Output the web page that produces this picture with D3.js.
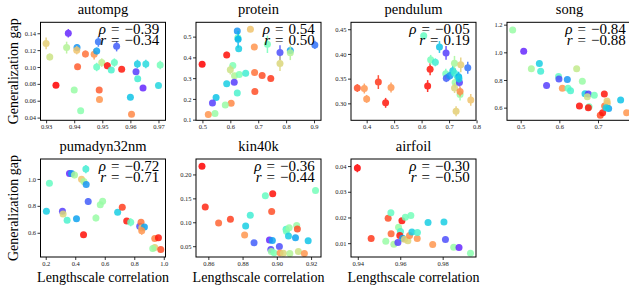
<!DOCTYPE html>
<html>
<head>
<meta charset="utf-8">
<script src="https://cdn.jsdelivr.net/npm/d3@7"></script>
<style>
  body { margin: 0; background: #fff; }
  svg text { font-family: "Liberation Serif", "Times New Roman", Times, serif; }
  .tick-label { font-size: 6.5px; fill: #222; }
  .title { font-size: 14.5px; text-anchor: middle; }
  .axis-label { font-size: 14px; text-anchor: middle; }
  .stat { font-size: 15px; text-anchor: end; }
</style>
</head>
<body>
<div id="chart"></div>
<script>
// Each point: [lengthscale correlation, generalization gap, error, colour index 0..1 (rainbow)]
const autompg = [
  [0.9300, 0.128, 0.007, 0.70], [0.9313, 0.112, 0.004, 0.65], [0.9335, 0.0785, 0.002, 1.00],
  [0.9379, 0.140, 0.005, 0.05], [0.9373, 0.123, 0.007, 0.60], [0.9410, 0.123, 0.004, 0.20],
  [0.9409, 0.120, 0.005, 0.72], [0.9412, 0.1004, 0.002, 0.88], [0.9400, 0.0726, 0.002, 0.55],
  [0.9423, 0.048, 0.002, 0.52], [0.9440, 0.1155, 0.004, 0.85], [0.9471, 0.115, 0.006, 0.80],
  [0.9480, 0.119, 0.004, 0.22], [0.9486, 0.130, 0.006, 0.15], [0.9480, 0.100, 0.005, 0.45],
  [0.9498, 0.1052, 0.005, 0.62], [0.9489, 0.0726, 0.002, 0.88], [0.9490, 0.0615, 0.002, 0.80],
  [0.9518, 0.1015, 0.004, 0.98], [0.9532, 0.0964, 0.002, 0.40], [0.9543, 0.1052, 0.005, 0.45],
  [0.9551, 0.1245, 0.006, 0.12], [0.9569, 0.0972, 0.002, 0.97], [0.9600, 0.064, 0.002, 0.28],
  [0.9604, 0.044, 0.002, 0.82], [0.9620, 0.0944, 0.003, 0.08], [0.9625, 0.1036, 0.005, 0.30],
  [0.9626, 0.0861, 0.002, 0.38], [0.9645, 0.0750, 0.002, 0.05], [0.9655, 0.1036, 0.005, 0.33],
  [0.9700, 0.0782, 0.002, 0.32], [0.9706, 0.1024, 0.005, 0.48]
];
const protein = [
  [0.499, 0.367, 0.01, 1.00], [0.587, 0.412, 0.015, 0.98], [0.625, 0.527, 0.01, 0.20],
  [0.672, 0.536, 0.005, 0.72], [0.627, 0.495, 0.01, 0.45], [0.628, 0.487, 0.04, 0.25],
  [0.630, 0.442, 0.01, 0.30], [0.686, 0.450, 0.01, 0.80], [0.733, 0.463, 0.042, 0.48],
  [0.778, 0.423, 0.035, 0.10], [0.815, 0.433, 0.01, 0.22], [0.903, 0.460, 0.02, 0.15],
  [0.815, 0.422, 0.035, 0.60], [0.778, 0.370, 0.035, 0.68], [0.609, 0.361, 0.01, 0.50],
  [0.600, 0.340, 0.022, 0.65], [0.615, 0.311, 0.01, 0.60], [0.632, 0.318, 0.01, 0.50],
  [0.655, 0.324, 0.015, 0.38], [0.614, 0.280, 0.01, 0.08], [0.587, 0.273, 0.005, 0.30],
  [0.687, 0.327, 0.005, 0.85], [0.714, 0.313, 0.005, 0.90], [0.745, 0.298, 0.005, 0.93],
  [0.688, 0.236, 0.005, 0.90], [0.625, 0.228, 0.005, 0.40], [0.549, 0.207, 0.005, 0.28],
  [0.536, 0.180, 0.005, 0.08], [0.603, 0.179, 0.005, 0.82], [0.582, 0.171, 0.005, 0.55],
  [0.545, 0.130, 0.005, 0.55], [0.521, 0.125, 0.005, 0.80]
];
const pendulum = [
  [0.366, 0.331, 0.008, 0.90], [0.3915, 0.330, 0.010, 0.80], [0.400, 0.309, 0.008, 0.80],
  [0.4425, 0.343, 0.014, 0.93], [0.4887, 0.332, 0.010, 0.80], [0.469, 0.301, 0.010, 0.97],
  [0.6077, 0.437, 0.006, 0.45], [0.622, 0.335, 0.012, 0.98], [0.631, 0.369, 0.012, 0.97],
  [0.633, 0.388, 0.010, 0.48], [0.650, 0.383, 0.008, 0.38], [0.665, 0.414, 0.012, 0.28],
  [0.689, 0.402, 0.014, 0.08], [0.688, 0.360, 0.010, 0.48], [0.690, 0.351, 0.008, 0.12],
  [0.7026, 0.356, 0.008, 0.20], [0.7136, 0.366, 0.010, 0.30], [0.7197, 0.381, 0.015, 0.58],
  [0.720, 0.361, 0.010, 0.38], [0.722, 0.342, 0.010, 0.55], [0.720, 0.331, 0.010, 0.68],
  [0.7426, 0.378, 0.015, 0.70], [0.735, 0.354, 0.010, 0.25], [0.7377, 0.342, 0.008, 0.08],
  [0.740, 0.318, 0.012, 0.55], [0.740, 0.324, 0.010, 0.82], [0.7255, 0.284, 0.010, 0.70],
  [0.768, 0.372, 0.012, 0.15], [0.779, 0.307, 0.012, 0.72], [0.736, 0.350, 0.008, 0.30]
];
const song = [
  [0.4793, 1.162, 0, 0.55], [0.5078, 1.008, 0, 0.05], [0.5276, 0.882, 0, 0.58],
  [0.5483, 0.919, 0, 0.30], [0.5517, 0.864, 0, 0.38], [0.567, 0.761, 0, 0.08],
  [0.598, 0.826, 0, 0.45], [0.599, 0.807, 0, 0.10], [0.6078, 0.741, 0, 0.80],
  [0.6207, 0.803, 0, 0.20], [0.6224, 0.741, 0, 0.45], [0.629, 0.723, 0, 0.40],
  [0.6448, 0.882, 0, 0.63], [0.6595, 0.791, 0, 0.55], [0.652, 0.612, 0, 0.98],
  [0.6664, 0.700, 0, 0.30], [0.675, 0.698, 0, 0.08], [0.6724, 0.679, 0, 0.65],
  [0.677, 0.607, 0, 0.48], [0.675, 0.600, 0, 0.98], [0.6905, 0.690, 0, 0.48],
  [0.706, 0.546, 0, 0.90], [0.712, 0.563, 0, 0.97], [0.7164, 0.698, 0, 0.97],
  [0.7172, 0.612, 0, 0.85], [0.7233, 0.648, 0, 0.70], [0.724, 0.631, 0, 0.72],
  [0.7276, 0.593, 0, 0.22], [0.721, 0.600, 0, 0.30], [0.7586, 0.655, 0, 0.28],
  [0.7741, 0.564, 0, 0.80]
];
const pumadyn = [
  [0.2249, 0.968, 0.01, 0.45], [0.2045, 0.760, 0.01, 0.30], [0.3133, 0.760, 0.01, 0.08],
  [0.3178, 0.740, 0.01, 0.68], [0.345, 0.693, 0.01, 0.40], [0.4085, 0.705, 0.01, 0.22],
  [0.361, 1.040, 0.01, 0.05], [0.375, 1.040, 0.01, 0.20], [0.3949, 1.030, 0.025, 0.58],
  [0.4425, 0.998, 0.01, 0.72], [0.4584, 0.980, 0.01, 0.58], [0.472, 1.073, 0.03, 0.38],
  [0.4742, 0.958, 0.01, 0.20], [0.4878, 0.833, 0.025, 0.12], [0.4562, 0.585, 0.01, 0.98],
  [0.5402, 0.710, 0.025, 0.55], [0.5697, 0.808, 0.015, 0.55], [0.5856, 0.835, 0.02, 0.55],
  [0.6873, 0.753, 0.01, 0.30], [0.7187, 0.790, 0.01, 0.92], [0.7487, 0.688, 0.01, 0.97],
  [0.7759, 0.678, 0.03, 0.45], [0.8369, 0.648, 0.01, 0.10], [0.8459, 0.678, 0.01, 0.85],
  [0.8505, 0.635, 0.01, 0.72], [0.8686, 0.643, 0.01, 0.22], [0.8505, 0.615, 0.03, 0.80],
  [0.9388, 0.558, 0.01, 0.83], [0.9637, 0.563, 0.01, 0.97], [0.9388, 0.490, 0.01, 0.70],
  [0.9252, 0.483, 0.01, 0.55], [0.9796, 0.475, 0.01, 0.90]
];
const kin40k = [
  [0.8563, 0.2169, 0, 1.00], [0.8582, 0.1317, 0, 0.95], [0.8660, 0.0986, 0, 0.87],
  [0.8729, 0.1063, 0, 0.92], [0.8812, 0.0732, 0, 0.80], [0.8818, 0.0923, 0, 0.30],
  [0.8845, 0.1148, 0, 0.38], [0.8867, 0.0570, 0, 0.12], [0.8933, 0.1556, 0, 0.45],
  [0.8976, 0.1599, 0, 0.98], [0.8970, 0.1225, 0, 0.90], [0.8957, 0.0627, 0, 0.05],
  [0.8974, 0.0620, 0, 0.22], [0.8965, 0.0430, 0, 0.08], [0.8968, 0.0387, 0, 0.55],
  [0.8984, 0.0359, 0, 0.50], [0.9015, 0.0493, 0, 0.10], [0.9019, 0.0359, 0, 0.80],
  [0.9038, 0.0352, 0, 0.68], [0.9054, 0.0852, 0, 0.40], [0.9056, 0.0810, 0, 0.48],
  [0.9072, 0.0887, 0, 0.55], [0.9068, 0.0711, 0, 0.30], [0.9076, 0.0345, 0, 0.60],
  [0.9109, 0.0676, 0, 0.22], [0.9116, 0.0930, 0, 0.55], [0.9120, 0.0859, 0, 0.90],
  [0.9126, 0.0387, 0, 0.65], [0.9161, 0.0345, 0, 0.80], [0.9183, 0.0613, 0, 0.28],
  [0.9226, 0.1662, 0, 0.48]
];
const airfoil = [
  [0.9398, 0.0392, 0.0016, 1.00], [0.9463, 0.0118, 0, 0.93], [0.9532, 0.0107, 0, 0.55],
  [0.9543, 0.0197, 0, 0.90], [0.9556, 0.0218, 0, 0.45], [0.9557, 0.0137, 0, 0.87],
  [0.9570, 0.0096, 0, 0.58], [0.9589, 0.0103, 0, 0.08], [0.9592, 0.0162, 0, 0.55],
  [0.9601, 0.0145, 0, 0.40], [0.9598, 0.0130, 0, 0.97], [0.9608, 0.0187, 0, 0.98],
  [0.9611, 0.0119, 0, 0.22], [0.9624, 0.0201, 0, 0.48], [0.9620, 0.0115, 0, 0.70],
  [0.9636, 0.0109, 0, 0.68], [0.9644, 0.0130, 0, 0.82], [0.9650, 0.0208, 0, 0.48],
  [0.9655, 0.0143, 0, 0.30], [0.9680, 0.0118, 0, 0.80], [0.9681, 0.0142, 0, 0.40],
  [0.9731, 0.0180, 0, 0.30], [0.9753, 0.0095, 0, 0.80], [0.9806, 0.0182, 0, 0.30],
  [0.9813, 0.0114, 0, 0.10], [0.9852, 0.0084, 0, 0.55], [0.9877, 0.0083, 0, 0.05],
  [0.9931, 0.0061, 0, 0.52]
];

// Tick values per panel
const autompgXTicks = [0.93, 0.94, 0.95, 0.96, 0.97];
const autompgYTicks = [0.04, 0.06, 0.08, 0.10, 0.12, 0.14];
const proteinXTicks = [0.5, 0.6, 0.7, 0.8, 0.9];
const proteinYTicks = [0.1, 0.2, 0.3, 0.4, 0.5];
const pendulumXTicks = [0.4, 0.5, 0.6, 0.7, 0.8];
const pendulumYTicks = [0.30, 0.35, 0.40, 0.45];
const songXTicks = [0.5, 0.6, 0.7, 0.8];
const songYTicks = [0.6, 0.8, 1.0, 1.2];
const pumadynXTicks = [0.2, 0.4, 0.6, 0.8, 1.0];
const pumadynYTicks = [0.6, 0.8, 1.0];
const kin40kXTicks = [0.86, 0.88, 0.90, 0.92];
const kin40kYTicks = [0.05, 0.10, 0.15, 0.20];
const airfoilXTicks = [0.94, 0.96, 0.98];
const airfoilYTicks = [0.01, 0.02, 0.03, 0.04];

const titles = ['autompg', 'protein', 'pendulum', 'song', 'pumadyn32nm', 'kin40k', 'airfoil'];
const rhos = ['\u22120.39', '0.54', '\u22120.05', '\u22120.84', '\u22120.72', '\u22120.36', '\u22120.30'];
const rs = ['\u22120.34', '0.50', '0.19', '\u22120.88', '\u22120.71', '\u22120.44', '\u22120.50'];

const panels = [
  { data: autompg, xd: [0.928, 0.9725], yd: [0.0368, 0.153], xt: autompgXTicks, yt: autompgYTicks, xf: '.2f', yf: '.2f' },
  { data: protein, xd: [0.477, 0.925], yd: [0.097, 0.569], xt: proteinXTicks, yt: proteinYTicks, xf: '.1f', yf: '.1f' },
  { data: pendulum, xd: [0.343, 0.798], yd: [0.2657, 0.464], xt: pendulumXTicks, yt: pendulumYTicks, xf: '.1f', yf: '.2f' },
  { data: song, xd: [0.4646, 0.788], yd: [0.5086, 1.217], xt: songXTicks, yt: songYTicks, xf: '.1f', yf: '.1f' },
  { data: pumadyn, xd: [0.1646, 1.0116], yd: [0.42, 1.148], xt: pumadynXTicks, yt: pumadynYTicks, xf: '.1f', yf: '.1f' },
  { data: kin40k, xd: [0.8528, 0.9258], yd: [0.0274, 0.2323], xt: kin40kXTicks, yt: kin40kYTicks, xf: '.2f', yf: '.2f' },
  { data: airfoil, xd: [0.9368, 0.9957], yd: [0.00462, 0.04275], xt: airfoilXTicks, yt: airfoilYTicks, xf: '.2f', yf: '.2f' }
];

// matplotlib "rainbow" colormap
function rainbow(t) {
  const r = Math.min(1, Math.abs(2 * t - 0.5));
  const g = Math.sin(Math.PI * t);
  const b = Math.cos(Math.PI * t / 2);
  return d3.rgb(r * 255, g * 255, b * 255).toString();
}

const W = 629, H = 290;
const colX = [40.5, 196, 351, 507];
const rowY = [22.3, 159];
const pw = 125, ph = 98;
const serif = '"Liberation Serif", "Times New Roman", Times, serif';
const eq = '\u2004=\u2004';

const svg = d3.select('#chart').append('svg').attr('width', W).attr('height', H);

panels.forEach(function (p, i) {
  const row = i < 4 ? 0 : 1, col = i < 4 ? i : i - 4;
  const x0 = colX[col], y0 = rowY[row];
  const g = svg.append('g').attr('transform', 'translate(' + x0 + ',' + y0 + ')');
  const x = d3.scaleLinear().domain(p.xd).range([0, pw]);
  const y = d3.scaleLinear().domain(p.yd).range([ph, 0]);

  const clipId = 'clip' + i;
  g.append('clipPath').attr('id', clipId).append('rect').attr('width', pw).attr('height', ph);
  const plot = g.append('g').attr('clip-path', 'url(#' + clipId + ')');

  const pts = plot.selectAll('g.pt').data(p.data).join('g').attr('class', 'pt').attr('opacity', 0.85);
  pts.filter(d => d[2] > 0).append('line')
    .attr('x1', d => x(d[0])).attr('x2', d => x(d[0]))
    .attr('y1', d => y(d[1] - d[2])).attr('y2', d => y(d[1] + d[2]))
    .attr('stroke', d => rainbow(d[3])).attr('stroke-width', 1.5);
  pts.append('circle')
    .attr('cx', d => x(d[0])).attr('cy', d => y(d[1])).attr('r', 3.5)
    .attr('fill', d => rainbow(d[3]));

  // axes
  const xAxis = d3.axisBottom(x).tickValues(p.xt).tickSize(3).tickPadding(1.5).tickFormat(d3.format(p.xf));
  const yAxis = d3.axisLeft(y).tickValues(p.yt).tickSize(3).tickPadding(1.5).tickFormat(d3.format(p.yf));
  const gx = g.append('g').attr('transform', 'translate(0,' + ph + ')').call(xAxis);
  const gy = g.append('g').call(yAxis);
  [gx, gy].forEach(function (a) {
    a.attr('font-family', serif).attr('font-size', 6.5);
    a.select('.domain').remove();
    a.selectAll('line').attr('stroke', '#000').attr('stroke-width', 0.8);
    a.selectAll('text').attr('class', 'tick-label');
  });
  gx.selectAll('.tick').filter(d => x(d) > W - x0).remove();

  g.append('rect').attr('width', pw).attr('height', ph)
    .attr('fill', 'none').attr('stroke', '#000').attr('stroke-width', 1);

  g.append('text').attr('class', 'title').attr('font-family', serif)
    .attr('x', pw / 2).attr('y', -8).text(titles[i]);

  const s1 = g.append('text').attr('class', 'stat').attr('font-family', serif)
    .attr('x', pw * 0.95).attr('y', 11.5);
  s1.append('tspan').attr('font-style', 'italic').text('\u03C1');
  s1.append('tspan').text(eq + rhos[i]);
  const s2 = g.append('text').attr('class', 'stat').attr('font-family', serif)
    .attr('x', pw * 0.95).attr('y', 22.5);
  s2.append('tspan').attr('font-style', 'italic').text('r');
  s2.append('tspan').text(eq + rs[i]);

  if (col === 0) {
    g.append('text').attr('class', 'axis-label').attr('font-family', serif)
      .attr('transform', 'translate(-23,' + ph / 2 + ') rotate(-90)')
      .text('Generalization gap');
  }
  if (row === 1) {
    g.append('text').attr('class', 'axis-label').attr('font-family', serif)
      .attr('x', pw / 2).attr('y', ph + 24.5)
      .text('Lengthscale correlation');
  }
});
</script>
</body>
</html>
